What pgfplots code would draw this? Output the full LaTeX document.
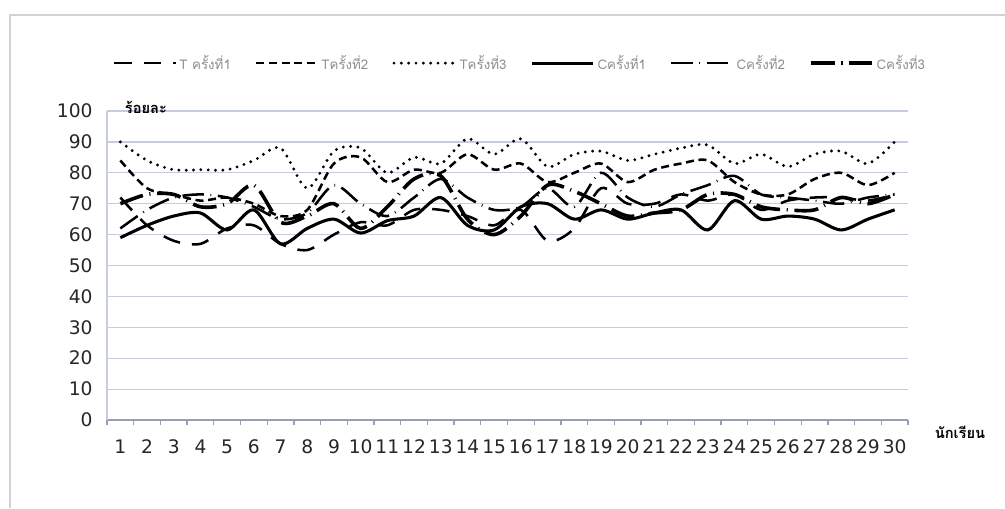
\documentclass[border=0pt]{standalone}
\usepackage{fontspec}
\setmainfont{DejaVu Sans}
\newfontfamily\thaifont[Script=Thai]{Loma}
\usepackage{pgfplots}
\usepackage{pgfplotstable}
\pgfplotsset{compat=1.18}

\definecolor{gridc}{RGB}{196,204,222}
\definecolor{axisc}{RGB}{150,160,178}

\pgfplotstableread{
n T1 T2 T3 C1 C2 C3
1  72 84 90 59   62 70
2  63 75 84 63   68 73
3  58 73 81 66   72 73
4  57 71 81 67   73 69
5  62 72 81 61.5 72 70
6  63 70 84 68   69 76
7  57 66 88 57   65 64
8  55 68 75 62   67 66
9  60 83 87 65   76 70
10 64 85 88 60.5 70 62
11 63 77 80 64.5 66 69
12 68 81 85 66   72 78
13 68 80 83 72   78 79
14 66 86 91 63   72 65
15 63 81 86 61.5 68 60
16 68 83 91 69   69 66
17 58 77 82 70   75 76
18 62 80 86 65   69 74
19 75 83 87 68   80 70
20 70 77 84 65   72 66
21 70 81 86 67   69 67
22 73 83 88 68   73 68
23 71 84 89 61.5 76 73
24 73 77 83 71   79 73
25 68 73 86 65   73 69
26 71 73 82 66   72 68
27 72 78 86 65   71 68
28 72 80 87 61.5 70 72
29 71 76 83 65   72 70
30 73 80 90 68   73 73
}\scores

\begin{document}
\begin{tikzpicture}
  \path[use as bounding box] (0pt,0pt) rectangle (753.75pt,381pt);
  \draw[gray!35, line width=1.2pt] (7.5pt,0pt) -- (7.5pt,369.75pt) -- (753.75pt,369.75pt);

  \begin{axis}[
    at={(80.25pt,66pt)}, anchor=south west,
    scale only axis, width=600.75pt, height=231.75pt,
    xmin=0.5, xmax=30.5, ymin=0, ymax=100,
    axis x line=bottom, axis y line=left,
    x axis line style={-, draw=axisc, line width=1.2pt},
    y axis line style={-, draw=gridc, line width=0.8pt},
    xtick={1,...,30},
    major x tick style={draw=none},
    minor xtick={0.5,1.5,...,30.5},
    minor x tick style={draw=axisc, line width=1pt},
    minor tick length=4pt,
    tick align=outside,
    ytick={0,10,...,100},
    ytick style={draw=none},
    ymajorgrids, grid style={draw=gridc, line width=0.9pt},
    /pgf/number format/assume math mode=true,
    ticklabel style={font=\fontsize{14}{14}\selectfont, text=black!85},
    yticklabel style={xshift=-3pt},
    xticklabel style={yshift=-7pt},
    clip=false,
    every axis plot/.append style={smooth, black, line width=1.9pt},
    legend image code/.code={\draw[#1] (0pt,0pt) -- (46pt,0pt);},
    legend style={at={(0.516,1.155)}, anchor=center, draw=none, fill=none,
      legend columns=6, text=black!45,
      font=\thaifont\fontsize{10}{11}\selectfont,
      /tikz/every even column/.append style={column sep=16pt}},
  ]
    \addplot[dash pattern=on 13pt off 9pt] table[x=n, y=T1] {\scores};
    \addplot[dash pattern=on 6pt off 3.5pt] table[x=n, y=T2] {\scores};
    \addplot[line width=2.4pt, line cap=round, dash pattern=on 0pt off 5.5pt] table[x=n, y=T3] {\scores};
    \addplot[line width=2.3pt] table[x=n, y=C1] {\scores};
    \addplot[dash pattern=on 16pt off 5pt on 0.6pt off 5pt] table[x=n, y=C2] {\scores};
    \addplot[line width=2.7pt, dash pattern=on 18pt off 5pt on 0.8pt off 5pt] table[x=n, y=C3] {\scores};
    \legend{T ครั้งที่1, Tครั้งที่2, Tครั้งที่3, Cครั้งที่1, Cครั้งที่2, Cครั้งที่3}
  \end{axis}

  \node[font=\thaifont\bfseries\fontsize{11}{12}\selectfont] at (109.5pt,300.75pt) {ร้อยละ};
  \node[font=\thaifont\bfseries\fontsize{11}{12}\selectfont] at (720pt,57pt) {นักเรียน};
\end{tikzpicture}
\end{document}
